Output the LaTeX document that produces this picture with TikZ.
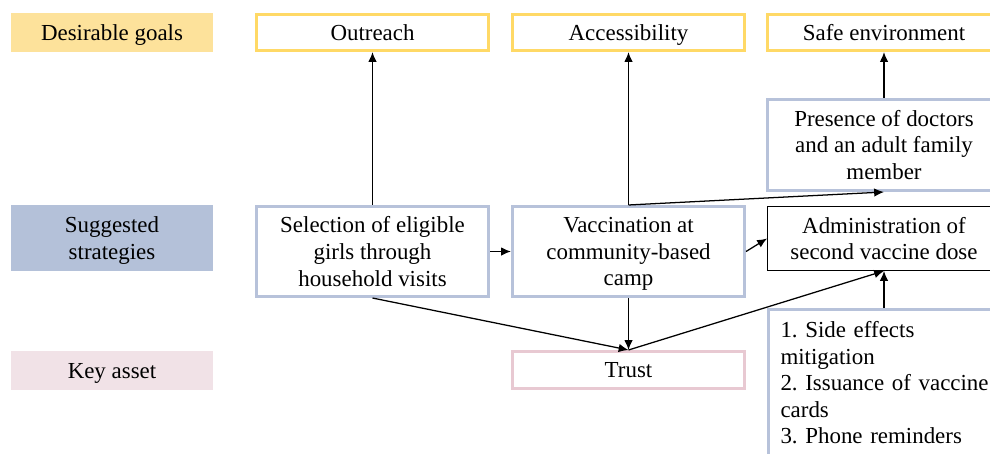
\documentclass[tikz,border=0pt]{standalone}
\usepackage{fontspec}
\setmainfont{Liberation Serif}
\usetikzlibrary{arrows.meta, positioning}
\definecolor{goalline}{HTML}{FFD966}
\definecolor{goalfill}{HTML}{FDE29B}
\definecolor{stratline}{HTML}{B7C2DA}
\definecolor{stratfill}{HTML}{B4C1D9}
\definecolor{assetline}{HTML}{E8C9D2}
\definecolor{assetfill}{HTML}{F1E2E7}
\newcommand{\nodp}[1]{\raisebox{0pt}[\height][0pt]{#1}}

\begin{document}
\begin{tikzpicture}[x=0.025cm, y=-0.025cm,
  font=\fontsize{16.3}{18.9}\selectfont\frenchspacing,
  rowlabel/.style={minimum width=5.05cm, align=center, inner sep=0pt},
  box/.style={draw, line width=0.075cm, fill=white, minimum width=5.8cm, align=center, inner sep=2pt},
  goal/.style={box, draw=goalline, minimum height=0.9cm, text depth=0pt},
  strat/.style={box, draw=stratline, minimum height=2.25cm},
  asset/.style={box, draw=assetline, minimum height=0.925cm, text depth=0pt}]
  \useasboundingbox (0,0) rectangle (990,453);
  \clip (0,0) rectangle (990,453);

  \node[rowlabel, fill=goalfill, minimum height=0.975cm, text depth=0pt] (lgoal) at (112,32.5) {Desirable goals};
  \node[rowlabel, fill=stratfill, minimum height=1.625cm] (lstrat) at (112,238) {Suggested\\\nodp{strategies}};
  \node[rowlabel, fill=assetfill, minimum height=0.975cm, text depth=0pt] (lasset) at (112,370.5) {Key asset};

  \node[goal] (outreach) at (372.5,32.5) {Outreach};
  \node[goal] (access) at (628.5,32.5) {Accessibility};
  \node[goal] (safe) at (884,32.5) {Safe environment};

  \node[strat, minimum height=2.275cm] (presence) at (884,145) {Presence of doctors\\and an adult family\\member};
  \node[strat] (select) at (372.5,251.5) {Selection of eligible\\girls through\\household visits};
  \node[strat] (vacc) at (628.5,251.5) {Vaccination at\\community-based\\\nodp{camp}};
  \node[box, line width=0.6pt, minimum width=5.825cm, minimum height=1.6cm] (admin) at (884,238.5) {Administration of\\second vaccine dose};
  \node[box, draw=stratline, anchor=north west, align=left, text width=5.8cm,
        inner xsep=0.3cm, inner ysep=8.4pt] (list) at (767,308)
        {1. Side effects\\mitigation\\2. Issuance of vaccine\\cards\\3. Phone reminders};

  \node[asset] (trust) at (628.5,370) {Trust};

  \path[-{Latex[length=7pt, width=6pt]}, line width=0.9pt]
    (select) edge (outreach)
    (vacc) edge (access)
    (vacc.north) edge (presence.south)
    (presence) edge (safe)

    (select) edge (vacc)
    (vacc.east) edge (admin.west)

    (select.south) edge (trust.north)
    (vacc) edge (trust)
    (trust.north) edge (admin.south)
    (list.north -| admin.south) edge (admin.south)
    ;
\end{tikzpicture}
\end{document}
